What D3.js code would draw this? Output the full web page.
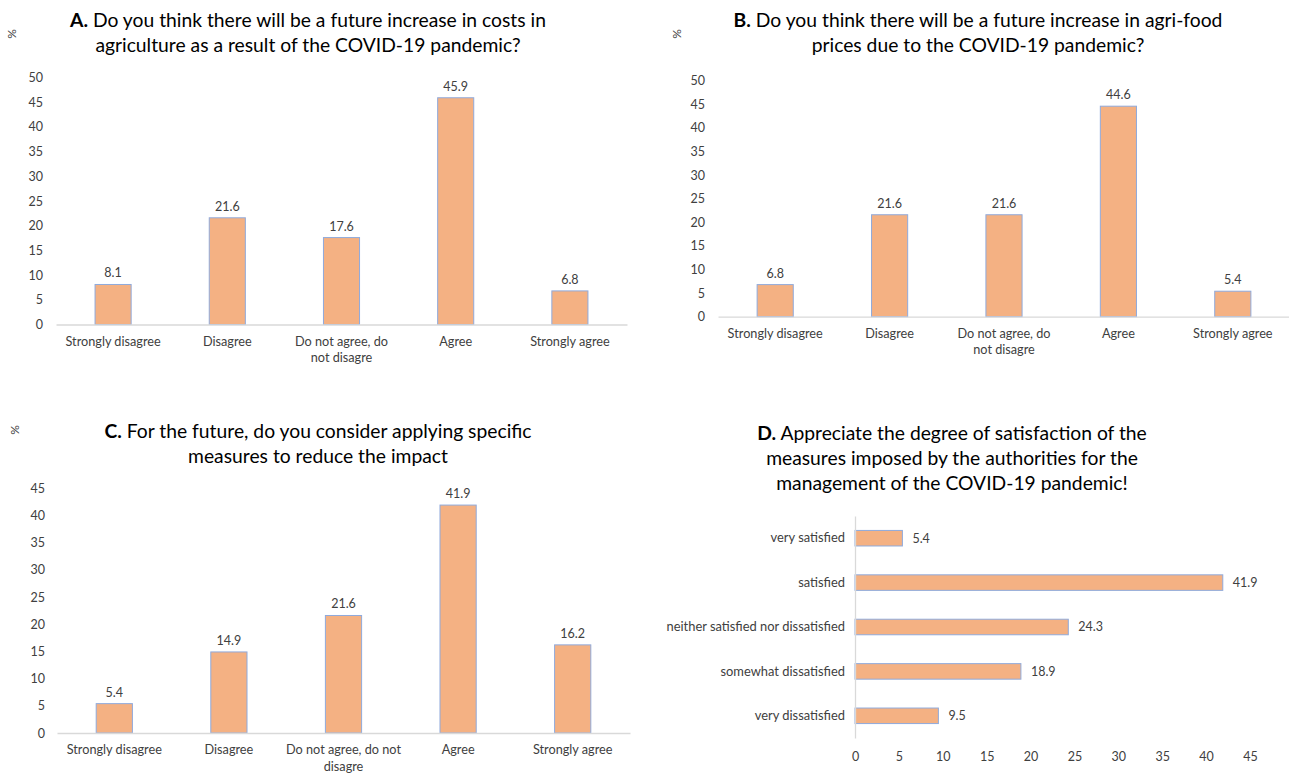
<!DOCTYPE html>
<html><head><meta charset="utf-8">
<script src="https://cdn.jsdelivr.net/npm/d3@7"></script>
<style>
body{margin:0;background:#fff;}
svg{display:block;font-family:Lato,"Open Sans",sans-serif;}
</style></head>
<body><svg id="c" width="1289" height="773"></svg>
<script>
// ---- data ----
const agreeCats = ["Strongly disagree","Disagree","Do not agree, do not disagre","Agree","Strongly agree"];
const valuesA = [8.1, 21.6, 17.6, 45.9, 6.8];
const valuesB = [6.8, 21.6, 21.6, 44.6, 5.4];
const valuesC = [5.4, 14.9, 21.6, 41.9, 16.2];
const satisCats = ["very satisfied","satisfied","neither satisfied nor dissatisfied","somewhat dissatisfied","very dissatisfied"];
const valuesD = [5.4, 41.9, 24.3, 18.9, 9.5];
const ticksAB = [0,5,10,15,20,25,30,35,40,45,50];
const ticksCD = [0,5,10,15,20,25,30,35,40,45];
const titleA = ["A.", " Do you think there will be a future increase in costs in", "agriculture as a result of the COVID-19 pandemic?"];
const titleB = ["B.", " Do you think there will be a future increase in agri-food", "prices due to the COVID-19 pandemic?"];
const titleC = ["C.", " For the future, do you consider applying specific", "measures to reduce the impact"];
const titleD = ["D.", " Appreciate the degree of satisfaction of the", "measures imposed by the authorities for the", "management of the COVID-19 pandemic!"];

const FILL = "#F4B183", STROKE = "#8FAADC", AXIS = "#D9D9D9", TXT = "#404040";
const svg = d3.select("#c");

function title(t, cx, y0, dy){
  const g = svg.append("g").attr("font-size",19.3).attr("fill","#000").attr("text-anchor","middle");
  const first = g.append("text").attr("x",cx).attr("y",y0);
  first.append("tspan").attr("font-weight","bold").text(t[0]);
  first.append("tspan").text(t[1]);
  for(let i=2;i<t.length;i++) g.append("text").attr("x",cx).attr("y",y0+dy*(i-1)).text(t[i]);
}
function pct(x,y){
  svg.append("text").attr("transform",`translate(${x},${y}) rotate(-90)`).attr("text-anchor","middle")
    .attr("font-size",12).attr("fill",TXT).text("%");
}
function wrap(textSel, width){
  textSel.each(function(){
    const t = d3.select(this), words = t.text().split(/\s+/);
    const x = t.attr("x")||0, dy0 = t.attr("dy")||"0";
    t.text(null);
    let line=[], ts = t.append("tspan").attr("x",x).attr("dy",dy0);
    for(const w of words){
      line.push(w); ts.text(line.join(" "));
      if(ts.node().getComputedTextLength()>width && line.length>1){
        line.pop(); ts.text(line.join(" ")); line=[w];
        ts = t.append("tspan").attr("x",x).attr("dy","1.3em").text(w);
      }
    }
  });
}
function vchart(vals, ticks, x0, x1, yBase, yTop, labX, wrapW){
  const x = d3.scaleBand().domain(agreeCats).range([x0,x1]).paddingInner(0.684).paddingOuter(0.342);
  const y = d3.scaleLinear().domain([0, ticks[ticks.length-1]]).range([yBase,yTop]);
  const ya = svg.append("g").attr("transform",`translate(${labX},0)`)
    .call(d3.axisLeft(y).tickValues(ticks).tickSize(0).tickPadding(0));
  ya.select(".domain").remove();
  ya.selectAll("text").attr("font-size",12.5).attr("fill",TXT).attr("font-family","Lato");
  svg.append("g").selectAll("rect").data(vals).join("rect")
    .attr("x",(d,i)=>x(agreeCats[i])).attr("width",x.bandwidth())
    .attr("y",d=>y(d)).attr("height",d=>yBase-y(d))
    .attr("fill",FILL).attr("stroke",STROKE).attr("stroke-width",1);
  const xa = svg.append("g").attr("transform",`translate(0,${yBase})`)
    .call(d3.axisBottom(x).tickSize(0).tickPadding(12));
  xa.select(".domain").attr("stroke",AXIS).attr("stroke-width",1.3);
  xa.selectAll("text").attr("font-size",12.7).attr("fill",TXT).attr("font-family","Lato").call(wrap, wrapW);
  svg.append("g").selectAll("text").data(vals).join("text")
    .attr("x",(d,i)=>x(agreeCats[i])+x.bandwidth()/2).attr("y",d=>y(d)-7)
    .attr("text-anchor","middle").attr("font-size",12.5).attr("fill",TXT).text(d=>d.toFixed(1));
}

pct(16,34); title(titleA, 308, 27, 25);
vchart(valuesA, ticksAB, 56, 627, 324.5, 77.5, 43, 105);
pct(681,34); title(titleB, 978, 27, 25);
vchart(valuesB, ticksAB, 718, 1290, 316.7, 80.7, 705, 105);
pct(19,430); title(titleC, 318, 438, 25);
vchart(valuesC, ticksCD, 57, 630, 733, 488.2, 45, 125);

// D horizontal
title(titleD, 952, 440, 25);
(function(){
  const x = d3.scaleLinear().domain([0,45]).range([855,1250]);
  const y = d3.scaleBand().domain(satisCats).range([516,738]).paddingInner(0.65).paddingOuter(0.325);
  svg.append("g").selectAll("rect").data(valuesD).join("rect")
    .attr("x",x(0)).attr("y",(d,i)=>y(satisCats[i])).attr("height",y.bandwidth())
    .attr("width",d=>x(d)-x(0)).attr("fill",FILL).attr("stroke",STROKE).attr("stroke-width",1);
  const ya = svg.append("g").attr("transform",`translate(${x(0)},0)`)
    .call(d3.axisLeft(y).tickSize(0).tickPadding(10));
  ya.select(".domain").attr("stroke",AXIS).attr("stroke-width",1.3);
  ya.selectAll("text").attr("font-size",12.9).attr("fill",TXT).attr("font-family","Lato");
  const xa = svg.append("g").attr("transform",`translate(0,738)`)
    .call(d3.axisBottom(x).tickValues(ticksCD).tickSize(0).tickPadding(14));
  xa.select(".domain").remove();
  xa.selectAll("text").attr("font-size",12.5).attr("fill",TXT).attr("font-family","Lato");
  svg.append("g").selectAll("text").data(valuesD).join("text")
    .attr("x",d=>x(d)+10).attr("y",(d,i)=>y(satisCats[i])+y.bandwidth()/2).attr("dy","0.35em")
    .attr("font-size",12.5).attr("fill",TXT).text(d=>d.toFixed(1));
})();
</script></body></html>
